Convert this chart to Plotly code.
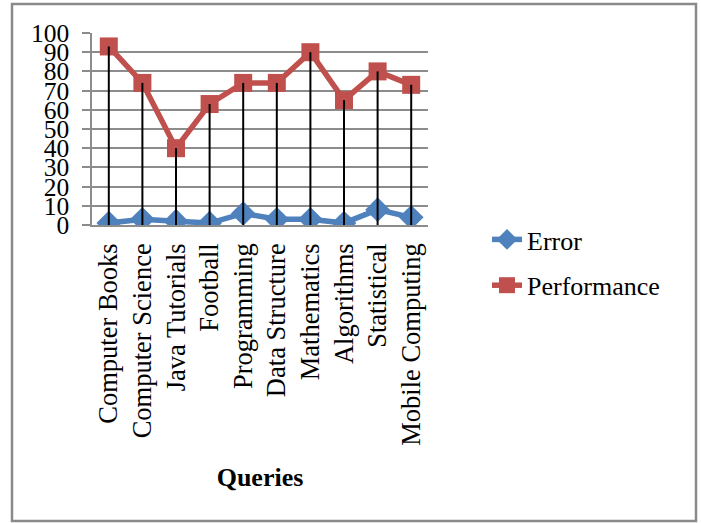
import plotly.graph_objects as go

categories = ["Computer Books", "Computer Science", "Java Tutorials", "Football",
              "Programming", "Data Structure", "Mathematics", "Algorithms",
              "Statistical", "Mobile Computing"]
error = [1, 3, 2, 1, 6, 3, 3, 1, 8, 4]
performance = [93, 74, 40, 63, 74, 74, 90, 65, 80, 73]
y_ticks = list(range(0, 101, 10))

BLUE = "#4F81BD"
RED = "#C0504D"
FONT = "Liberation Serif"

W, H = 701, 523
L, R, T, B = 92, 428, 33, 225  # plot-area pixel box

fig = go.Figure()
fig.add_trace(go.Scatter(
    x=categories, y=error, name="Error", mode="lines+markers",
    line=dict(color=BLUE, width=5.5),
    marker=dict(symbol="diamond", size=19, color=BLUE),
    legendgroup="e",
))
fig.add_trace(go.Scatter(
    x=categories, y=performance, name="Performance", mode="lines+markers",
    line=dict(color=RED, width=5.5),
    marker=dict(symbol="square", size=18, color=RED),
    legendgroup="p",
))
# drop lines from each high point to the axis
dx, dy = [], []
for c, e, p in zip(categories, error, performance):
    dx += [c, c, None]
    dy += [max(e, p), 0, None]
fig.add_trace(go.Scatter(x=dx, y=dy, mode="lines", line=dict(color="black", width=2),
                         showlegend=False, hoverinfo="skip"))

def px_x(px):
    return (px - L) / (R - L)

def px_y(py):
    return (B - py) / (B - T)

fig.add_shape(type="rect", xref="paper", yref="paper",
              x0=px_x(12), x1=px_x(696), y0=px_y(521), y1=px_y(4),
              line=dict(color="#8a8a8a", width=2.5), fillcolor="rgba(0,0,0,0)", layer="below")

fig.update_layout(
    width=W, height=H,
    margin=dict(l=L, r=W - R, t=T, b=H - B, pad=0),
    paper_bgcolor="white", plot_bgcolor="white",
    font=dict(family=FONT, color="black", size=26),
    showlegend=True,
    legend=dict(x=px_x(487), y=px_y(216), xanchor="left", yanchor="top",
                font=dict(family=FONT, size=26, color="black"),
                tracegroupgap=9, bgcolor="rgba(0,0,0,0)"),
    xaxis=dict(
        type="category", range=[-0.5, len(categories) - 0.5],
        showgrid=False, showline=True, linecolor="#8c8c8c", linewidth=1.5,
        ticks="", tickangle=-90, tickfont=dict(family=FONT, size=26.5, color="black"),
        ticklabelstandoff=6,
        title=dict(text="<b>Queries</b>", font=dict(family=FONT, size=26, color="black"),
                   standoff=23),
        zeroline=False,
    ),
    yaxis=dict(
        range=[0, 100], tickvals=y_ticks, ticktext=[str(v) for v in y_ticks],
        showgrid=True, gridcolor="#8c8c8c", gridwidth=1.5,
        showline=True, linecolor="#8c8c8c", linewidth=1.5,
        ticks="outside", ticklen=8, tickcolor="#8c8c8c", tickwidth=1.5,
        tickfont=dict(family=FONT, size=25.5, color="black"),
        ticklabelstandoff=8,
        zeroline=False,
    ),
)

fig.write_html("out.html", config={"displayModeBar": False},
               post_script="document.body.style.margin='0';")
